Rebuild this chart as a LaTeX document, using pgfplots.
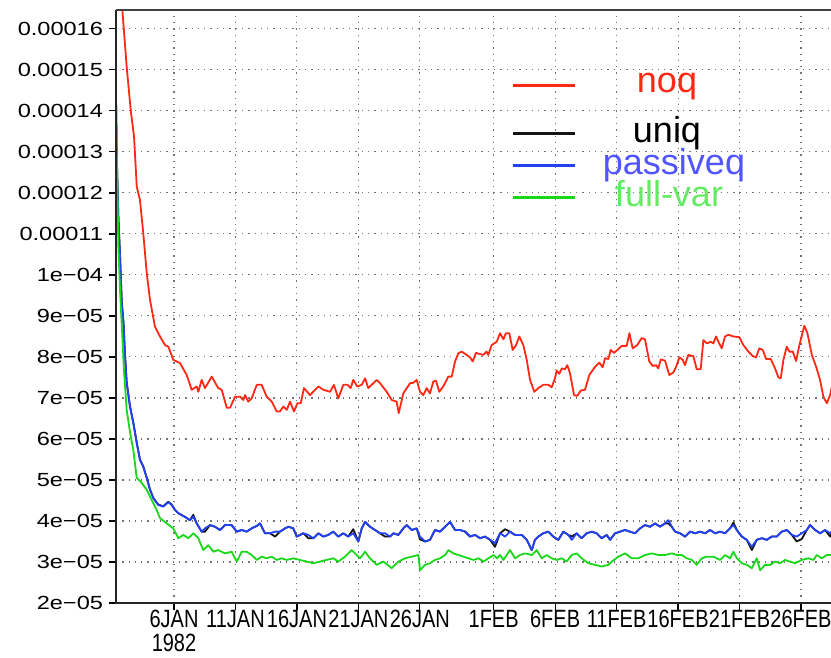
\documentclass[border=0pt]{standalone}
\usepackage{pgfplots}
\pgfplotsset{compat=1.18}
\usepackage{pgfplotstable}
\usepackage{fontspec}
\setmainfont{Liberation Sans}
\definecolor{cred}{RGB}{255,40,20}
\definecolor{cblue}{RGB}{35,65,245}
\definecolor{cgreen}{RGB}{25,215,25}
\definecolor{cblack}{RGB}{20,20,20}
\definecolor{tblue}{RGB}{80,85,255}
\definecolor{tgreen}{RGB}{100,235,100}
\newcommand{\yl}[1]{\scalebox{1.24}[1]{#1}}
\newcommand{\xl}[1]{\scalebox{0.8}[1]{#1}}

% values v in units of 1e-5, d = day number (1 = 1 Jan 1982)
\pgfplotstableread{
d v
1.50 17.50
1.80 16.46
2.15 15.08
2.48 14.02
2.75 13.37
2.97 12.15
3.23 11.83
3.50 11.02
3.78 10.05
4.05 9.39
4.45 8.74
4.86 8.50
5.27 8.29
5.54 8.25
5.94 7.93
6.49 7.85
7.03 7.56
7.44 7.20
7.85 7.28
7.98 7.15
8.25 7.44
8.52 7.24
9.07 7.52
9.60 7.24
9.88 7.20
10.29 6.76
10.56 6.76
10.96 7.03
11.37 7.03
11.64 6.95
11.78 7.07
12.04 6.91
12.32 6.99
12.73 7.32
13.13 7.32
13.54 7.03
13.95 6.91
14.35 6.67
14.62 6.67
14.89 6.79
15.17 6.71
15.44 6.91
15.76 6.67
16.03 6.87
16.31 6.87
16.57 7.24
17.06 7.07
17.74 7.28
18.14 7.20
18.69 7.15
19.01 7.32
19.36 6.99
19.77 7.32
20.10 7.32
20.37 7.24
20.58 7.44
20.91 7.28
21.27 7.32
21.54 7.48
21.80 7.24
22.49 7.44
22.76 7.36
23.30 7.15
23.71 6.95
24.11 6.91
24.28 6.63
24.65 7.11
25.20 7.36
25.46 7.37
25.74 7.44
26.01 7.15
26.28 7.07
26.55 7.24
26.82 7.11
27.09 7.40
27.31 7.42
27.58 7.15
27.90 7.28
28.31 7.52
28.59 7.52
28.86 7.89
29.13 8.09
29.40 8.13
29.81 8.05
30.08 7.99
30.30 7.89
30.56 8.10
30.89 8.07
31.16 8.05
31.43 8.13
31.56 8.05
31.84 8.29
32.25 8.37
32.52 8.58
32.79 8.43
33.00 8.58
33.27 8.58
33.55 8.17
33.82 8.29
34.09 8.50
34.41 8.29
34.69 7.93
34.96 7.44
35.31 7.15
35.63 7.24
36.04 7.32
36.45 7.32
36.72 7.26
36.99 7.48
37.13 7.67
37.34 7.59
37.54 7.72
37.80 7.70
37.99 7.80
38.21 7.60
38.54 7.07
38.80 7.05
39.08 7.18
39.43 7.20
39.78 7.56
40.25 7.76
40.59 7.86
40.87 7.75
41.06 7.97
41.33 7.95
41.52 8.17
41.79 8.10
42.06 8.17
42.42 8.27
42.82 8.27
43.04 8.58
43.31 8.21
43.68 8.29
44.04 8.46
44.31 8.43
44.66 7.89
44.94 7.78
45.20 7.80
45.39 7.72
45.59 7.94
45.94 7.91
46.29 7.56
46.61 7.62
46.83 7.75
47.10 7.99
47.38 7.93
47.56 7.80
47.83 8.05
48.24 8.02
48.52 7.70
48.84 7.70
49.06 8.41
49.33 8.33
49.66 8.37
49.87 8.33
50.09 8.50
50.28 8.37
50.55 8.21
50.82 8.50
51.09 8.54
51.50 8.50
51.99 8.48
52.31 8.29
52.72 8.13
53.08 8.02
53.34 7.99
53.61 8.21
53.89 8.17
54.16 7.95
54.54 7.95
54.89 7.72
55.16 7.50
55.35 7.48
55.57 7.93
55.84 8.25
56.05 8.13
56.33 8.13
56.60 7.90
56.87 8.29
57.27 8.76
57.52 8.58
57.88 8.05
58.23 7.76
58.55 7.44
58.82 7.03
59.10 6.87
59.37 7.07
59.61 7.44
}\noq

\pgfplotstableread{
d v
1.28 14.40
1.34 12.95
1.47 11.45
1.61 10.48
1.75 9.35
1.89 8.85
2.02 8.03
2.15 7.38
2.42 6.80
2.69 6.40
2.97 5.91
3.23 5.50
3.50 5.33
3.78 5.06
4.05 4.77
4.32 4.56
4.72 4.40
5.13 4.36
5.54 4.47
5.81 4.40
6.08 4.27
6.35 4.19
6.89 4.10
7.30 4.02
7.57 4.15
7.85 3.94
8.25 3.74
8.52 3.74
8.93 3.90
9.33 3.86
9.74 3.78
10.15 3.90
10.69 3.90
11.10 3.74
11.51 3.78
11.91 3.74
12.32 3.82
12.73 3.88
13.00 3.94
13.40 3.70
13.81 3.70
14.22 3.62
14.62 3.74
15.03 3.82
15.30 3.86
15.70 3.82
15.98 3.62
16.52 3.70
16.92 3.58
17.33 3.58
17.74 3.70
18.14 3.62
18.55 3.66
18.96 3.74
19.36 3.62
19.77 3.70
20.18 3.62
20.58 3.80
20.99 3.50
21.27 3.82
21.54 3.98
21.94 3.86
22.35 3.78
22.76 3.70
23.16 3.62
23.57 3.62
23.84 3.70
24.25 3.66
24.65 3.82
24.93 3.90
25.33 3.78
25.74 3.82
26.01 3.55
26.42 3.50
26.82 3.54
27.23 3.78
27.64 3.74
28.05 3.86
28.45 3.98
28.86 3.78
29.27 3.78
29.68 3.74
30.08 3.62
30.49 3.66
30.89 3.58
31.30 3.62
31.71 3.54
32.11 3.37
32.52 3.70
32.93 3.80
33.33 3.74
33.74 3.66
34.28 3.66
34.69 3.54
35.10 3.29
35.36 3.54
35.63 3.62
36.04 3.70
36.45 3.74
36.85 3.62
37.26 3.54
37.67 3.74
38.07 3.66
38.35 3.62
38.76 3.70
39.16 3.58
39.57 3.70
39.98 3.74
40.38 3.70
40.79 3.58
41.20 3.66
41.47 3.54
41.87 3.70
42.28 3.74
42.69 3.78
43.09 3.74
43.50 3.70
43.91 3.82
44.31 3.90
44.72 3.86
45.13 3.94
45.53 3.86
45.94 3.94
46.21 3.94
46.49 3.86
46.76 3.74
47.16 3.70
47.57 3.62
47.98 3.74
48.39 3.70
48.79 3.74
49.20 3.70
49.60 3.78
50.01 3.70
50.42 3.74
50.82 3.70
51.23 3.82
51.50 3.96
51.78 3.78
52.18 3.62
52.59 3.54
53.00 3.29
53.40 3.54
53.81 3.58
54.22 3.54
54.62 3.62
55.03 3.62
55.44 3.74
55.84 3.78
56.25 3.66
56.65 3.50
57.06 3.56
57.47 3.78
57.74 3.90
58.15 3.78
58.55 3.70
58.96 3.78
59.37 3.62
59.61 3.78
}\uniq

\pgfplotstableread{
d v
1.28 14.34
1.34 12.89
1.47 11.42
1.61 10.45
1.75 9.32
1.89 8.83
2.02 8.01
2.15 7.37
2.42 6.79
2.69 6.39
2.97 5.90
3.23 5.49
3.50 5.32
3.78 5.05
4.05 4.76
4.32 4.55
4.72 4.39
5.13 4.35
5.54 4.46
5.81 4.39
6.08 4.27
6.35 4.19
6.89 4.10
7.30 4.02
7.57 4.10
7.85 3.94
8.25 3.74
8.52 3.82
8.93 3.90
9.33 3.86
9.74 3.78
10.15 3.90
10.69 3.90
11.10 3.74
11.51 3.78
11.91 3.74
12.32 3.82
12.73 3.88
13.00 3.94
13.40 3.70
13.81 3.70
14.22 3.74
14.62 3.74
15.03 3.82
15.30 3.86
15.70 3.82
15.98 3.62
16.52 3.70
16.92 3.66
17.33 3.58
17.74 3.70
18.14 3.62
18.55 3.66
18.96 3.74
19.36 3.62
19.77 3.70
20.18 3.62
20.58 3.70
20.99 3.50
21.27 3.82
21.54 3.98
21.94 3.86
22.35 3.78
22.76 3.70
23.16 3.70
23.57 3.62
23.84 3.70
24.25 3.66
24.65 3.82
24.93 3.90
25.33 3.78
25.74 3.82
26.01 3.62
26.42 3.50
26.82 3.54
27.23 3.78
27.64 3.74
28.05 3.86
28.45 3.98
28.86 3.78
29.27 3.78
29.68 3.74
30.08 3.62
30.49 3.66
30.89 3.58
31.30 3.62
31.71 3.54
32.11 3.46
32.52 3.70
32.93 3.62
33.33 3.74
33.74 3.66
34.28 3.66
34.69 3.54
35.10 3.29
35.36 3.54
35.63 3.62
36.04 3.70
36.45 3.74
36.85 3.62
37.26 3.54
37.67 3.74
38.07 3.66
38.35 3.54
38.76 3.70
39.16 3.58
39.57 3.70
39.98 3.74
40.38 3.70
40.79 3.58
41.20 3.66
41.47 3.54
41.87 3.70
42.28 3.74
42.69 3.78
43.09 3.74
43.50 3.70
43.91 3.82
44.31 3.90
44.72 3.86
45.13 3.94
45.53 3.86
45.94 3.94
46.21 4.02
46.49 3.86
46.76 3.74
47.16 3.70
47.57 3.62
47.98 3.74
48.39 3.70
48.79 3.74
49.20 3.70
49.60 3.78
50.01 3.70
50.42 3.74
50.82 3.70
51.23 3.82
51.50 3.90
51.78 3.78
52.18 3.62
52.59 3.54
53.00 3.37
53.40 3.54
53.81 3.58
54.22 3.54
54.62 3.62
55.03 3.62
55.44 3.74
55.84 3.78
56.25 3.66
56.65 3.62
57.06 3.70
57.47 3.78
57.74 3.90
58.15 3.78
58.55 3.70
58.96 3.78
59.37 3.70
59.61 3.78
}\passiveq

\pgfplotstableread{
d v
1.28 14.27
1.47 10.73
1.61 9.63
1.77 8.66
1.93 7.68
2.15 6.71
2.42 6.17
2.69 5.73
2.97 5.05
3.37 4.93
3.78 4.76
4.19 4.51
4.59 4.27
4.86 4.07
5.41 3.94
5.94 3.82
6.35 3.58
6.76 3.66
7.16 3.58
7.57 3.70
7.98 3.58
8.38 3.29
8.79 3.41
9.20 3.25
9.60 3.29
10.15 3.21
10.69 3.25
11.10 3.01
11.51 3.25
11.91 3.25
12.32 3.17
12.73 3.05
13.13 3.13
13.54 3.09
13.95 3.13
14.35 3.05
14.76 3.09
15.17 3.05
15.70 3.09
16.25 3.05
16.79 3.01
17.33 2.97
17.88 3.01
18.42 3.05
18.96 3.09
19.36 3.01
19.91 3.13
20.45 3.29
20.86 3.17
21.13 3.09
21.54 3.25
21.94 3.09
22.49 2.93
23.03 3.01
23.71 2.85
24.25 3.01
24.79 3.09
25.33 3.13
25.88 3.17
26.01 2.80
26.42 2.93
26.82 2.97
27.23 3.05
27.64 3.09
28.05 3.17
28.32 3.29
28.73 3.21
29.13 3.17
29.54 3.13
29.95 3.09
30.36 3.05
30.77 3.09
31.17 3.01
31.58 3.09
31.99 3.17
32.27 3.09
32.52 3.17
32.79 3.05
33.33 3.29
33.74 3.09
34.15 3.17
34.55 3.21
35.10 3.17
35.50 3.29
35.91 3.09
36.32 3.17
36.72 3.09
37.13 3.05
37.54 3.09
37.94 3.01
38.35 3.17
38.76 3.21
39.16 3.09
39.70 2.97
40.25 2.93
40.79 2.89
41.33 2.93
41.61 3.01
42.15 3.13
42.69 3.21
43.23 3.09
43.77 3.09
44.31 3.17
44.86 3.21
45.40 3.17
45.94 3.17
46.49 3.21
46.89 3.17
47.30 3.17
47.71 3.09
48.11 3.05
48.52 2.93
48.93 3.09
49.33 3.13
49.87 3.13
50.42 3.05
50.82 3.17
51.23 3.09
51.50 3.25
51.78 3.09
52.18 2.97
52.59 2.93
53.00 2.85
53.40 3.09
53.67 2.80
54.08 2.93
54.49 2.93
54.89 3.01
55.30 2.97
55.71 3.05
56.11 3.01
56.52 2.97
57.06 3.05
57.60 3.09
58.01 3.05
58.28 3.17
58.69 3.09
59.10 3.17
59.61 3.17
}\fullvar

\begin{document}
\begin{tikzpicture}
\useasboundingbox (-116pt,-54pt) rectangle (715pt,603pt);
\begin{axis}[
  scale only axis,
  width=715pt, height=593pt,
  xmin=1.282, xmax=59.44,
  ymin=2e-5, ymax=16.46e-5,
  axis line style={draw=none},
  tick align=outside,
  tick pos=left,
  major tick length=6.5pt,
  tick style={black, line width=1.2pt},
  scaled y ticks=false,
  xtick={6,11,16,21,26,32,37,42,47,52,57},
  xticklabels={{\xl{\begin{tabular}{@{}c@{}}6JAN\\1982\end{tabular}}},{\xl{11JAN}},{\xl{16JAN}},{\xl{21JAN}},{\xl{26JAN}},{\xl{1FEB}},{\xl{6FEB}},{\xl{11FEB}},{\xl{16FEB}},{\xl{21FEB}},{\xl{26FEB}}},
  xticklabel style={font=\fontsize{25}{21}\selectfont, anchor=north, yshift=3pt},
  ytick={2e-5,3e-5,4e-5,5e-5,6e-5,7e-5,8e-5,9e-5,10e-5,11e-5,12e-5,13e-5,14e-5,15e-5,16e-5},
  yticklabels={{\yl{2e−05}},{\yl{3e−05}},{\yl{4e−05}},{\yl{5e−05}},{\yl{6e−05}},{\yl{7e−05}},{\yl{8e−05}},{\yl{9e−05}},{\yl{1e−04}},{\yl{0.00011}},{\yl{0.00012}},{\yl{0.00013}},{\yl{0.00014}},{\yl{0.00015}},{\yl{0.00016}}},
  yticklabel style={font=\fontsize{19}{22}\selectfont, anchor=east, xshift=-3pt},
  grid=major,
  major grid style={black!55, line width=1.1pt, dash pattern=on 1.3pt off 5pt},
]
\addplot[cred, line width=1.8pt, line join=round] table[x=d, y expr=\thisrow{v}*1e-5] {\noq};
\addplot[cblack, line width=1.8pt, line join=round] table[x=d, y expr=\thisrow{v}*1e-5] {\uniq};
\addplot[cblue, line width=1.8pt, line join=round] table[x=d, y expr=\thisrow{v}*1e-5] {\passiveq};
\addplot[cgreen, line width=1.8pt, line join=round] table[x=d, y expr=\thisrow{v}*1e-5] {\fullvar};
\end{axis}
\draw[black!85, line width=1.6pt] (0pt,593pt) -- (0pt,0pt) -- (715pt,0pt);
\draw[black!75, line width=1.6pt] (0pt,593pt) -- (715pt,593pt);
% legend
\draw[cred, line width=3pt] (397pt,517.3pt) -- (459pt,517.3pt);
\draw[cblack, line width=3pt] (397pt,469pt) -- (459pt,469pt);
\draw[cblue, line width=3pt] (397pt,437pt) -- (459pt,437pt);
\draw[cgreen, line width=3pt] (397pt,405.3pt) -- (459pt,405.3pt);
\node[anchor=base, inner sep=0pt, text=cred, font=\fontsize{36}{40}\selectfont] at (551pt,510.3pt) {noq};
\node[anchor=base, inner sep=0pt, text=black, font=\fontsize{36}{40}\selectfont] at (551pt,460.3pt) {uniq};
\node[anchor=base, inner sep=0pt, text=tblue, font=\fontsize{36}{40}\selectfont] at (558pt,428pt) {passiveq};
\node[anchor=base, inner sep=0pt, text=tgreen, font=\fontsize{36}{40}\selectfont] at (553pt,396.3pt) {full-var};
\end{tikzpicture}
\end{document}
